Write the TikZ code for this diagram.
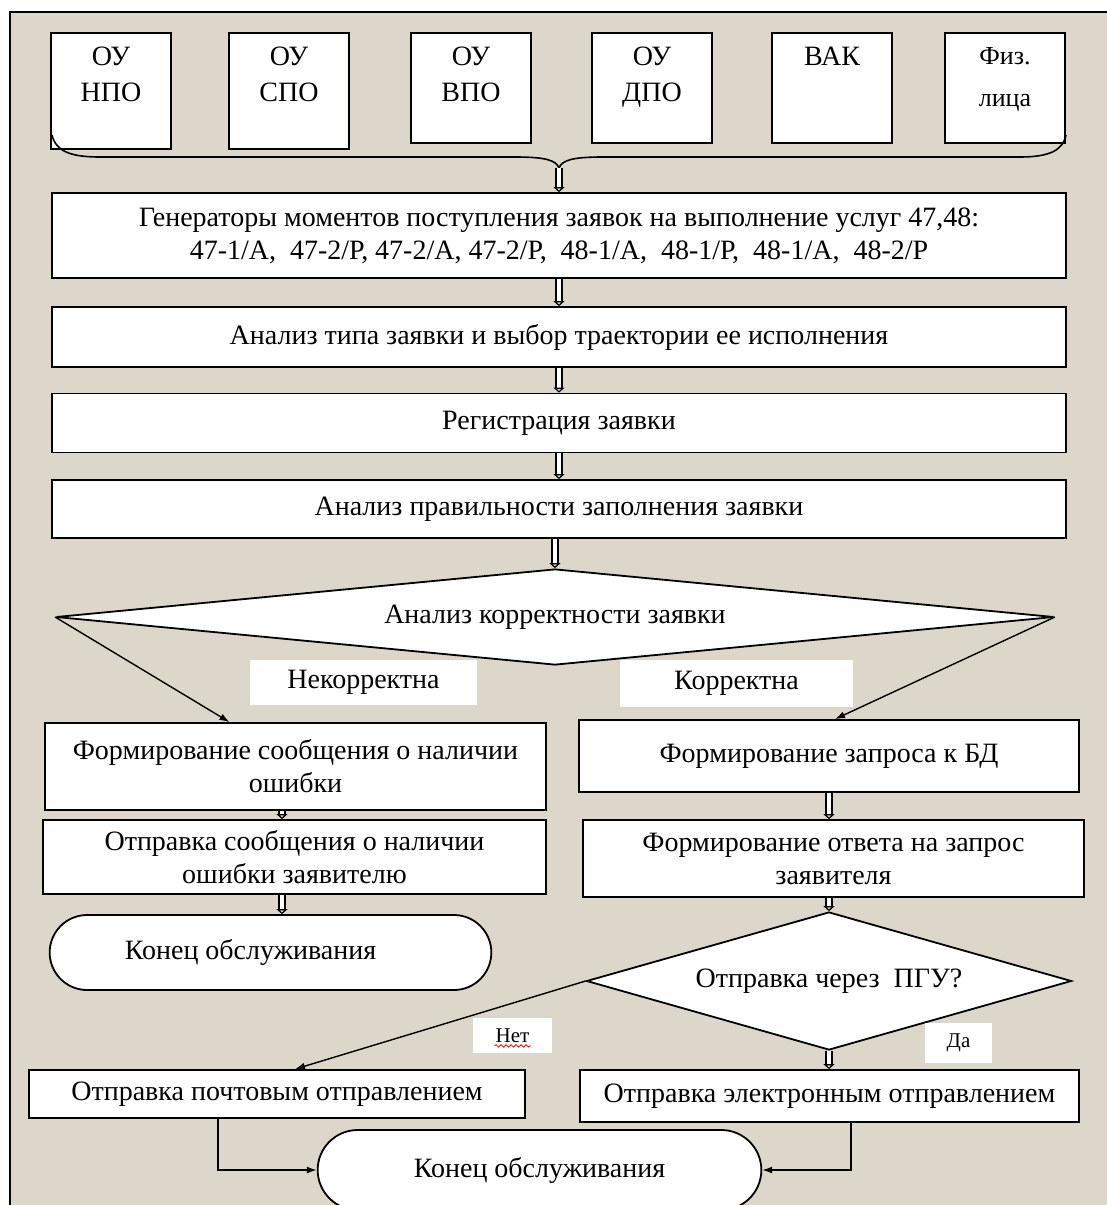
\documentclass[tikz,border=0pt]{standalone}
\usepackage{fontspec}
\setmainfont{Liberation Serif}
\usetikzlibrary{arrows.meta,shapes.geometric,shapes.misc,positioning,decorations.pathmorphing}
\definecolor{paper}{RGB}{221,214,202}
\tikzset{
    src-box/.style = {draw, fill=white, line width=0.9pt, anchor=north, minimum width=60pt, minimum height=55pt},
    src-text/.style = {anchor=north, align=center, yshift=-4pt, font=\fontsize{14}{18}\selectfont},
    step-box/.style = {draw, fill=white, line width=0.9pt, align=center, inner sep=2pt, font=\fontsize{14}{16.5}\selectfont},
    decision/.style = {diamond, draw, fill=white, line width=0.9pt, inner sep=0pt, font=\fontsize{14}{16.5}\selectfont},
    terminal/.style = {rounded rectangle, draw, fill=white, line width=0.9pt, font=\fontsize{14}{16.5}\selectfont},
    tag/.style = {fill=white, inner sep=0pt, font=\fontsize{14}{16.5}\selectfont},
    flow/.style = {line width=0.7pt, -{Latex[length=5pt, width=3.5pt]}},
    hollow/.style = {double=white, double distance=2.4pt, line width=0.6pt, -{Triangle[open, length=2.5pt, width=5.5pt]}},
}
\begin{document}
\begin{tikzpicture}[x=0.5pt, y=-0.5pt]
\useasboundingbox (0,0) rectangle (1107,1205);
\fill[paper] (10,12) rectangle (1107,1205);
\draw[line width=1pt] (10,1205) -- (10,12) -- (1107,12);

% applicants
\node[src-box, minimum height=58pt, label={[src-text]north:ОУ\\НПО}] (npo) at (111,32) {};
\node[src-box, minimum height=58pt, label={[src-text]north:ОУ\\СПО}] (spo) at (289,32) {};
\node[src-box, label={[src-text]north:ОУ\\ВПО}] (vpo) at (471,32) {};
\node[src-box, label={[src-text]north:ОУ\\ДПО}] (dpo) at (652,32) {};
\node[src-box, label={[src-text]north:ВАК}] (vak) at (832,32) {};
\node[src-box, label={[src-text, font=\fontsize{13}{21}\selectfont]north:Физ.\\лица}] (fiz) at (1005,32) {};

% brace under the applicants
\draw[line width=0.8pt] (52,135) .. controls (56,152) and (72,157) .. (100,157) -- (515,157)
    .. controls (545,157) and (556,160) .. (559,168) .. controls (562,160) and (573,157) .. (603,157)
    -- (1020,157) .. controls (1050,157) and (1063,150) .. (1066,135);
\coordinate (tip) at (559,168);

% main chain
\node[step-box, minimum width=507pt, minimum height=42.5pt] (gen) at (559,235.5)
    {Генераторы моментов поступления заявок на выполнение услуг 47,48:\\
     47-1/А,\ \ 47-2/Р, 47-2/А, 47-2/Р,\ \ 48-1/А,\ \ 48-1/Р,\ \ 48-1/А,\ \ 48-2/Р};
\node[step-box, minimum width=507pt, minimum height=30pt] (typ) at (559,337)
    {Анализ типа заявки и выбор траектории ее исполнения};
\node[step-box, minimum width=507pt, minimum height=29.5pt] (reg) at (559,423)
    {Регистрация заявки};
\node[step-box, minimum width=507pt, minimum height=29pt] (chk) at (559,509)
    {Анализ правильности заполнения заявки};
\node[decision, aspect=10, minimum width=499pt, minimum height=48pt] (corr) at (555,617)
    {Анализ корректности заявки};

% left branch
\node[step-box, minimum width=250.5pt, minimum height=43.5pt] (err1) at (295.5,766.5)
    {Формирование сообщения о наличии\\ ошибки};
\node[step-box, minimum width=251.5pt, minimum height=37pt] (err2) at (294.5,857)
    {Отправка сообщения о наличии\\ ошибки заявителю};
\node[terminal, minimum width=227.5pt, minimum height=37.5pt] (end1) at (270.5,952.5)
    {Конец обслуживания\hspace*{20pt}};

% right branch
\node[step-box, minimum width=250pt, minimum height=36pt] (db) at (829,756)
    {Формирование запроса к БД};
\node[step-box, minimum width=250.5pt, minimum height=38.5pt] (ans) at (833.5,858.5)
    {Формирование ответа на запрос\\ заявителя};
\node[decision, aspect=3.5, minimum width=242.5pt, minimum height=69pt] (pgu) at (829,981)
    {Отправка через\ \ ПГУ?};
\node[step-box, minimum width=249.5pt, minimum height=26pt] (el) at (829.5,1096)
    {Отправка электронным отправлением};
\node[step-box, minimum width=248pt, minimum height=24pt] (post) at (277,1094)
    {Отправка почтовым отправлением};
\node[terminal, minimum width=228.5pt, minimum height=40pt] (end2) at (539.5,1170)
    {Конец обслуживания};

% hollow arrows
\coordinate (lcol) at (282,0);
\coordinate (rcol) at (829,0);
\draw[hollow] (tip) -- (gen);
\draw[hollow] (gen) -- (typ);
\draw[hollow] (typ) -- (reg);
\draw[hollow] (reg) -- (chk);
\draw[hollow] (chk.south -| corr.north) -- (corr.north);
\draw[hollow] (err1.south -| lcol) -- (err2.north -| lcol);
\draw[hollow] (err2.south -| lcol) -- (end1.north -| lcol);
\draw[hollow] (db.south -| rcol) -- (ans.north -| rcol);
\draw[hollow] (ans.south -| rcol) -- (pgu.north);
\draw[hollow] (pgu.south) -- (el.north -| rcol);

% line arrows
\draw[flow] (corr.west) -- ([xshift=-33pt]err1.north);
\draw[flow] (corr.east) -- ([xshift=3pt]db.north);
\draw[flow] (pgu.west) -- ([xshift=9pt]post.north);
\draw[flow] ([xshift=-29.5pt]post.south) |- (end2.west);
\draw[flow] ([xshift=10.75pt]el.south) |- (end2.east);

% branch labels
\node[tag, minimum width=113.5pt, minimum height=22.5pt] (bad) at (363.5,682.5) {Некорректна};
\node[tag, minimum width=116.5pt, minimum height=23.5pt] (good) at (736.5,683.5) {Корректна};
\node[tag, font=\fontsize{10.5}{12}\selectfont, minimum width=39.5pt, minimum height=17.5pt] (no) at (512.5,1035.5) {Нет};
\node[tag, font=\fontsize{10.5}{12}\selectfont, minimum width=33.5pt, minimum height=20pt] (yes) at (958.5,1043) {Да};
\draw[red, line width=0.4pt, decorate, decoration={snake, amplitude=0.6pt, segment length=2.5pt}]
    ([xshift=-9pt, yshift=-1.8pt]no.base) -- ([xshift=9pt, yshift=-1.8pt]no.base);
\end{tikzpicture}
\end{document}
